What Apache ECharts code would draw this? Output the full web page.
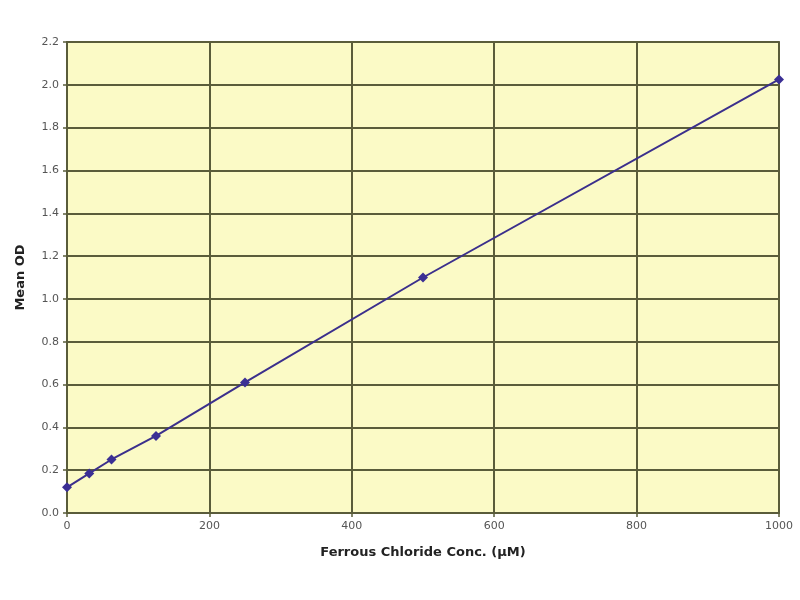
<!DOCTYPE html>
<html><head><meta charset="utf-8">
<script src="https://cdn.jsdelivr.net/npm/echarts@6/dist/echarts.min.js"></script>
<style>html,body{margin:0;padding:0;background:#fff}#c{width:800px;height:600px}</style>
</head><body><div id="c"></div>
<script>
const concentrations = [0, 31.25, 62.5, 125, 250, 500, 1000];
const meanOD = [0.12, 0.185, 0.25, 0.36, 0.61, 1.10, 2.025];
const xTicks = [0, 200, 400, 600, 800, 1000];
const yTicks = [0.0, 0.2, 0.4, 0.6, 0.8, 1.0, 1.2, 1.4, 1.6, 1.8, 2.0, 2.2];

const chart = echarts.init(document.getElementById('c'));
const gridColor = '#5a5c3a';
chart.setOption({
  animation: false,
  backgroundColor: '#ffffff',
  grid: { left: 67, right: 21, top: 42, bottom: 87, show: true, backgroundColor: '#fbfac6', borderColor: '#6e6e5a', borderWidth: 2 },
  xAxis: {
    type: 'value', min: 0, max: 1000, interval: 200,
    name: 'Ferrous Chloride Conc. (μM)', nameLocation: 'middle', nameGap: 33,
    nameTextStyle: { fontFamily: 'Verdana, DejaVu Sans', fontWeight: 'bold', fontSize: 13, color: '#222' },
    axisLine: { show: true, lineStyle: { color: gridColor, width: 2 } },
    axisTick: { show: true, length: 4, lineStyle: { color: gridColor, width: 1.5 } },
    axisLabel: { fontFamily: 'Verdana, DejaVu Sans', fontSize: 11, color: '#555', margin: 8, formatter: v => xTicks.includes(v) ? String(v) : '' },
    splitLine: { show: true, lineStyle: { color: gridColor, width: 2 } }
  },
  yAxis: {
    type: 'value', min: 0, max: 2.2, interval: 0.2,
    name: 'Mean OD', nameLocation: 'middle', nameGap: 40,
    nameTextStyle: { fontFamily: 'Verdana, DejaVu Sans', fontWeight: 'bold', fontSize: 13, color: '#222' },
    axisLine: { show: true, lineStyle: { color: gridColor, width: 2 } },
    axisTick: { show: true, length: 4, lineStyle: { color: gridColor, width: 1.5 } },
    axisLabel: { fontFamily: 'Verdana, DejaVu Sans', fontSize: 11, color: '#555', margin: 8,
      formatter: v => { const t = yTicks.find(y => Math.abs(y - v) < 1e-6); return t === undefined ? '' : t.toFixed(1); } },
    splitLine: { show: true, lineStyle: { color: gridColor, width: 2 } }
  },
  series: [{
    type: 'line',
    data: concentrations.map((c, i) => [c, meanOD[i]]),
    symbol: 'diamond', symbolSize: 10,
    itemStyle: { color: '#3b2f94' },
    lineStyle: { color: '#3b2f8c', width: 2 }
  }]
});
</script></body></html>
